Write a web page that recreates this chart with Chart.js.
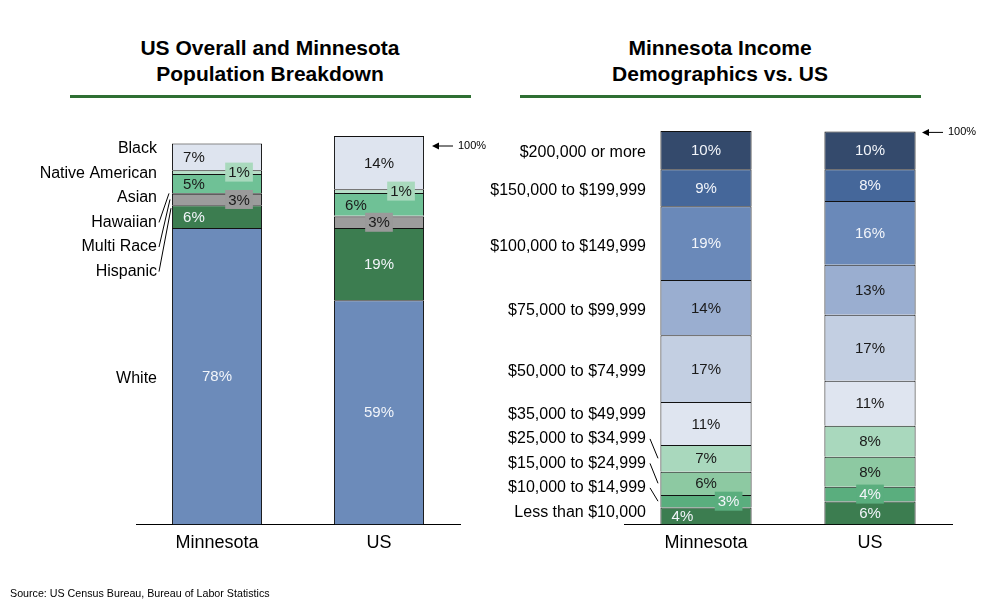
<!DOCTYPE html>
<html><head><meta charset="utf-8">
<script src="https://cdn.jsdelivr.net/npm/chart.js@4.4.0/dist/chart.umd.min.js"></script>
<style>
html,body{margin:0;padding:0;background:#fff;}
body{width:1008px;height:610px;position:relative;overflow:hidden;font-family:"Liberation Sans",Arial,sans-serif;}
canvas{position:absolute;left:0;top:0;}
.title{position:absolute;top:35px;width:420px;text-align:center;font-weight:bold;font-size:21px;line-height:26px;color:#000;}
.rule{position:absolute;top:95px;height:3px;background:#2f6f33;}
.src{position:absolute;left:10px;top:587px;font-size:10.7px;color:#000;}
</style></head><body>
<div class="title" style="left:60px">US Overall and Minnesota<br>Population Breakdown</div>
<div class="title" style="left:510px">Minnesota Income<br>Demographics vs. US</div>
<div class="rule" style="left:70px;width:401px"></div>
<div class="rule" style="left:520px;width:401px"></div>
<canvas id="race" width="1008" height="610"></canvas>
<canvas id="income" width="1008" height="610"></canvas>
<div class="src">Source: US Census Bureau, Bureau of Labor Statistics</div>
<script>
// ---------- DATA ----------
const categories = ['Minnesota', 'US'];

const raceSeries = ['White', 'Hispanic', 'Multi Race', 'Hawaiian', 'Asian', 'Native American', 'Black'];
const raceMN = [78, 6, 3, 0.2, 5, 1, 7];
const raceUS = [59, 19, 3, 0.2, 6, 1, 14];

const incomeSeries = ['Less than $10,000', '$10,000 to $14,999', '$15,000 to $24,999', '$25,000 to $34,999',
  '$35,000 to $49,999', '$50,000 to $74,999', '$75,000 to $99,999', '$100,000 to $149,999',
  '$150,000 to $199,999', '$200,000 or more'];
const incomeMN = [4.3, 3.2, 5.9, 6.8, 10.9, 17.0, 14.0, 18.8, 9.4, 9.7];
const incomeUS = [5.8, 3.8, 7.6, 7.9, 11.4, 16.8, 12.7, 16.2, 8.1, 9.6];

// ---------- STYLE ----------
const FONT = '"Liberation Sans", Arial, sans-serif';
const LIGHT = '#f2f5fa', DARK = '#1a1a1a';
const raceColors = ['#6c8bba', '#3c7d50', '#9c9c9c', '#000000', '#6fc196', '#b6e0c8', '#dee4ef'];
const raceText = [LIGHT, LIGHT, DARK, DARK, DARK, DARK, DARK];
const racePos = [['c','c'], ['l','c'], ['r','c'], [null,null], ['l','l'], ['r','r'], ['l','c']];
const raceBox = [null, null, '#9a9a9a', null, null, '#a9d9bd', null];

const incomeColors = ['#3c7d50', '#5aae7e', '#8dc9a2', '#a9d8bd', '#dfe5f0', '#c3cfe2', '#9aaed0', '#6a89b9', '#45679a', '#344a6c'];
const incomeText = [LIGHT, LIGHT, DARK, DARK, DARK, DARK, DARK, LIGHT, LIGHT, LIGHT];
const incomePos = [['l','c'], ['r','c'], ['c','c'], ['c','c'], ['c','c'], ['c','c'], ['c','c'], ['c','c'], ['c','c'], ['c','c']];
const incomeBox = [null, '#5aae7e', null, null, null, null, null, null, null, null];

const sum = a => a.reduce((s, v) => s + v, 0);

function buildDatasets(series, mn, us, colors) {
  return series.map((name, i) => ({
    label: name,
    data: [mn[i], us[i]],
    backgroundColor: colors[i],
    borderColor: '#111',
    borderWidth: 1,
    borderSkipped: 'start',
    categoryPercentage: 1,
    barPercentage: 0.556
  }));
}

function pctPlugin(pos, box, colors) {
  return {
    id: 'pct',
    afterDatasetsDraw(chart) {
      const ctx = chart.ctx;
      ctx.save();
      ctx.font = '15px ' + FONT;
      ctx.textBaseline = 'middle';
      ctx.textAlign = 'center';
      chart.data.datasets.forEach((ds, di) => {
        const meta = chart.getDatasetMeta(di);
        meta.data.forEach((bar, ci) => {
          const p = pos[di][ci];
          if (!p) return;
          const b = bar.getProps(['x', 'y', 'base', 'width'], true);
          const left = b.x - b.width / 2, right = b.x + b.width / 2;
          const x = p === 'l' ? left + 22 : p === 'r' ? right - 23 : b.x;
          const y = (b.y + b.base) / 2;
          const txt = Math.round(ds.data[ci]) + '%';
          const w = ctx.measureText(txt).width;
          if (box[di]) {
            ctx.fillStyle = box[di];
            ctx.fillRect(x - w / 2 - 3, y - 9.5, w + 6, 19);
          }
          ctx.fillStyle = colors[di];
          ctx.fillText(txt, x, y + 1);
        });
      });
      ctx.restore();
    }
  };
}

function arrow(ctx, x, y, text) {
  ctx.save();
  ctx.strokeStyle = '#000'; ctx.fillStyle = '#000'; ctx.lineWidth = 1;
  ctx.beginPath(); ctx.moveTo(x + 5, y); ctx.lineTo(x + 21, y); ctx.stroke();
  ctx.beginPath(); ctx.moveTo(x, y); ctx.lineTo(x + 7, y - 3.5); ctx.lineTo(x + 7, y + 3.5); ctx.closePath(); ctx.fill();
  ctx.font = '11px ' + FONT; ctx.textAlign = 'left'; ctx.textBaseline = 'middle';
  ctx.fillText(text, x + 26, y);
  ctx.restore();
}

function segMid(ys, vals, i) {
  const below = sum(vals.slice(0, i));
  return ys.getPixelForValue(below + vals[i] / 2);
}
function leader(ctx, x1, y1, x2, y2) {
  ctx.beginPath(); ctx.moveTo(x1, y1); ctx.lineTo(x2, y2); ctx.stroke();
}

function baseOptions(padding, ymax) {
  return {
    responsive: false,
    animation: false,
    layout: { padding },
    plugins: { legend: { display: false }, tooltip: { enabled: false }, title: { display: false } },
    scales: {
      x: {
        stacked: true,
        grid: { display: false, drawTicks: false },
        border: { display: true, color: '#000', width: 1 },
        ticks: { color: '#000', font: { size: 18, family: FONT }, padding: 8 }
      },
      y: { stacked: true, display: false, min: 0, max: ymax }
    }
  };
}

// ---------- RACE CHART ----------
new Chart(document.getElementById('race'), {
  type: 'bar',
  data: { labels: categories, datasets: buildDatasets(raceSeries, raceMN, raceUS, raceColors) },
  options: baseOptions({ left: 136, right: 548, top: 136, bottom: 48 }, sum(raceUS)),
  plugins: [pctPlugin(racePos, raceBox, raceText), {
    id: 'raceSide',
    afterDraw(chart) {
      const ctx = chart.ctx, ys = chart.scales.y;
      ctx.save();
      ctx.font = '16px ' + FONT; ctx.fillStyle = '#000';
      ctx.textAlign = 'right'; ctx.textBaseline = 'middle';
      const mnTop = ys.getPixelForValue(sum(raceMN));
      const order = [6, 5, 4, 3, 2, 1];
      const ly = {};
      order.forEach((di, i) => { ly[di] = mnTop + 5 + i * 24.6; ctx.fillText(raceSeries[di], 157, ly[di]); });
      ctx.fillText(raceSeries[0], 157, segMid(ys, raceMN, 0) + 2);
      ctx.strokeStyle = '#000'; ctx.lineWidth = 1;
      leader(ctx, 159, ly[3], 169, segMid(ys, raceMN, 3));
      leader(ctx, 159, ly[2], 170, segMid(ys, raceMN, 2));
      leader(ctx, 159, ly[1], 171, ys.getPixelForValue(sum(raceMN.slice(0, 2))) + 3);
      ctx.restore();
      arrow(ctx, 432, ys.getPixelForValue(sum(raceUS)) + 10, '100%');
    }
  }]
});

// ---------- INCOME CHART ----------
new Chart(document.getElementById('income'), {
  type: 'bar',
  data: { labels: categories, datasets: buildDatasets(incomeSeries, incomeMN, incomeUS, incomeColors) },
  options: baseOptions({ left: 624, right: 56, top: 131, bottom: 48 }, 100),
  plugins: [pctPlugin(incomePos, incomeBox, incomeText), {
    id: 'incomeSide',
    afterDraw(chart) {
      const ctx = chart.ctx, ys = chart.scales.y;
      ctx.save();
      ctx.font = '16px ' + FONT; ctx.fillStyle = '#000';
      ctx.textAlign = 'right'; ctx.textBaseline = 'middle';
      [5, 6, 7, 8, 9].forEach(di => ctx.fillText(incomeSeries[di], 646, segMid(ys, incomeMN, di) + 3));
      const base = ys.getPixelForValue(0);
      const ly = {};
      [0, 1, 2, 3, 4].forEach((di, i) => { ly[di] = base - 12 - i * 24.5; ctx.fillText(incomeSeries[di], 646, ly[di]); });
      ctx.strokeStyle = '#000'; ctx.lineWidth = 1;
      [1, 2, 3].forEach(di => leader(ctx, 650, ly[di], 658, segMid(ys, incomeMN, di)));
      ctx.restore();
      arrow(ctx, 922, ys.getPixelForValue(sum(incomeUS)) + 1, '100%');
    }
  }]
});
</script>
</body></html>
